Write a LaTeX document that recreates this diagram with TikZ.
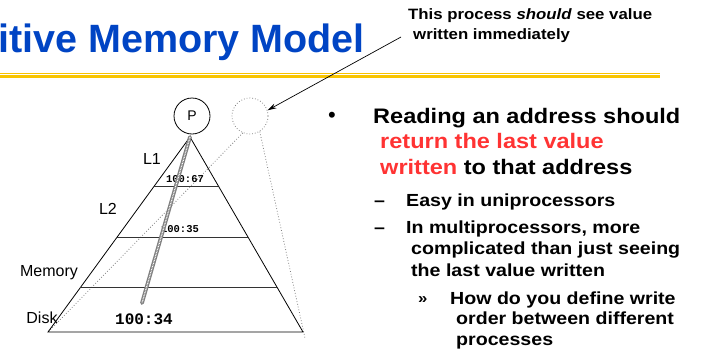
\documentclass[tikz,border=0pt]{standalone}
\usepackage{fontspec}
\setmainfont{Liberation Sans}
\setmonofont{Liberation Mono}
\newfontfamily\widesans[FakeStretch=1.12]{Liberation Sans}
\usetikzlibrary{arrows.meta, calc}

\definecolor{titleblue}{RGB}{0,68,196}
\definecolor{rulegold}{RGB}{248,196,0}
\definecolor{hlred}{RGB}{255,51,51}

\begin{document}
\begin{tikzpicture}[
    x=1pt, y=-1pt,
    every node/.style={inner sep=0pt},
    levellabel/.style={font=\fontsize{16}{18}\selectfont},
    addr/.style={font=\ttfamily\bfseries\fontsize{10.5}{12}\selectfont},
    bigaddr/.style={font=\ttfamily\bfseries\fontsize{16}{18}\selectfont},
    procnode/.style={circle, draw, line width=0.8pt, minimum size=36pt,
                     font=\fontsize{14}{16}\selectfont},
    ghost/.style={draw=gray, dotted, line width=0.8pt},
    mainpt/.style={align=left, anchor=north west,
                   font=\widesans\bfseries\fontsize{21}{25.5}\selectfont},
    subpt/.style={align=left, anchor=north west,
                  font=\widesans\bfseries\fontsize{17.5}{21.5}\selectfont},
    marker/.style={anchor=base west, font=\widesans\bfseries\fontsize{17.5}{20}\selectfont},
    arrow/.style={-{Stealth[length=9pt, width=5pt]}, line width=0.7pt}
]
\useasboundingbox (0,0) rectangle (709,351);

% title and rule
\node[anchor=base east, text=titleblue,
      font=\bfseries\fontsize{39.5}{44}\selectfont] (title) at (365,52)
      {itive Memory Model};
\draw[rulegold, line width=1pt] (0,73) -- (660,73);
\draw[rulegold, line width=2.2pt] (0,76.5) -- (660,76.5);

% processors
\node[procnode] (proc) at (192,116) {P};
\node[procnode, draw=none] (other) at (250,116) {};
\draw[ghost] (other) circle (18pt);

% pyramid
\coordinate (apex) at (190,137);
\coordinate (bl) at (48,332);
\coordinate (br) at (303,332);
\coordinate (ghostend) at (305,338);
\coordinate (readend) at (142,303);

\draw[ghost] (other.247) -- (bl);
\draw[ghost] (other.302) -- (ghostend);

\draw[line width=0.8pt] (bl) -- (apex) -- (br) -- cycle;
\foreach \t in {0.251,0.513,0.774}
  \draw[line width=0.9pt, black!80] ($(apex)!\t!(bl)$) -- ($(apex)!\t!(br)$);

\node[levellabel] (l1)  at (152,159) {L1};
\node[levellabel] (l2)  at (108,209) {L2};
\node[levellabel] (mem) at (49,273)  {Memory};
\node[levellabel] (disk) at (42,318) {Disk};

\node[addr]    (v1) at (185,179) {100:67};
\node[addr]    (v2) at (180,229) {100:35};
\node[bigaddr] (v3) at (144,319) {100:34};

% read path
\draw[gray, line width=3.8pt, line cap=round] (apex) -- (readend);
\draw[white, line width=1.2pt, dash pattern=on 0.8pt off 0.8pt] (apex) -- (readend);

% annotation
\node[anchor=north west, align=left,
      font=\widesans\bfseries\fontsize{15}{20}\selectfont] (note) at (408,8.5)
      {This process \textit{should} see value\\\hspace*{5pt}written immediately};
\coordinate (notetail) at (401,37);
\draw[arrow] (notetail) -- (other.18);

% bullets
\node[font=\fontsize{22}{24}\selectfont] (dot) at (332,117) {\textbullet};
\node[mainpt] (b1) at (373,108)
      {Reading an address should\\
       \hspace*{7pt}\textcolor{hlred}{return the last value}\\
       \hspace*{7pt}\textcolor{hlred}{written} to that address};

\node[marker] (d1) at (374,206) {\textendash};
\node[subpt] (s1) at (406,193.5) {Easy in uniprocessors};
\node[marker] (d2) at (374,233) {\textendash};
\node[subpt] (s2) at (406,220.5)
      {In multiprocessors, more\\
       \hspace*{5pt}complicated than just seeing\\
       \hspace*{5pt}the last value written};

\node[marker, font=\widesans\bfseries\fontsize{15}{18}\selectfont] (d3) at (418,303) {\guillemotright};
\node[subpt, font=\widesans\bfseries\fontsize{17.5}{20.5}\selectfont] (s3) at (450,291.5)
      {How do you define write\\
       \hspace*{6pt}order between different\\
       \hspace*{6pt}processes};

\end{tikzpicture}
\end{document}
